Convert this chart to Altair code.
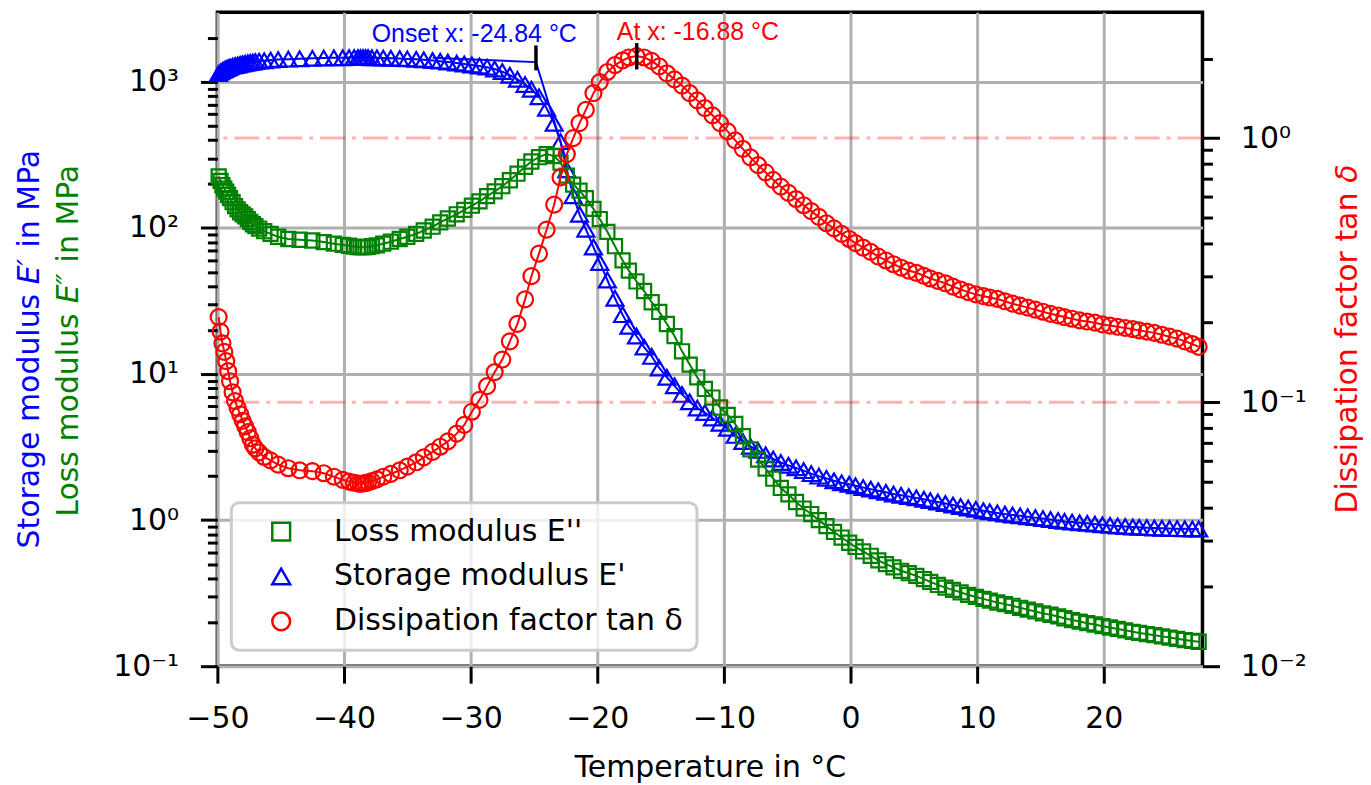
import altair as alt
import pandas as pd

# ---------------- data ----------------
temperature = [
    -49.9, -49.75, -49.6, -49.45, -49.3, -49.15, -49.0, -48.8, -48.6, -48.4,
    -48.2, -48.0, -47.8, -47.6, -47.4, -47.2, -47.0, -46.7, -46.3, -45.8, -45.2,
    -44.4, -43.5, -42.5, -41.6, -40.8, -40.1,
    -39.6, -39.2, -38.9, -38.7, -38.5, -38.3, -38.1, -37.8, -37.4,
    -36.9, -36.3, -35.6, -35.0, -34.3, -33.7, -33.0, -32.4, -31.8, -31.1,
    -30.5, -29.9, -29.3, -28.7, -28.1, -27.5, -26.9, -26.3, -25.7, -25.2,
    -24.6, -24.0, -23.4, -22.9, -22.4, -21.9, -21.4, -20.9, -20.3, -19.8,
    -19.2, -18.6, -18.0, -17.5, -16.9, -16.3, -15.7, -15.1, -14.5, -13.9,
    -13.3, -12.7, -12.1, -11.5, -10.9, -10.3, -9.7, -9.1, -8.5, -7.9,
    -7.3, -6.7, -6.1, -5.5, -4.9, -4.3, -3.7, -3.1, -2.5, -1.9,
    -1.3, -0.7, -0.1, 0.4, 1.0, 1.6, 2.2, 2.8, 3.4, 4.0,
    4.6, 5.2, 5.8, 6.3, 6.9, 7.5, 8.1, 8.7, 9.3, 9.9,
    10.5, 11.0, 11.6, 12.2, 12.8, 13.4, 14.0, 14.6, 15.2, 15.8,
    16.4, 16.9, 17.5, 18.1, 18.7, 19.3, 19.9, 20.5, 21.1, 21.7,
    22.3, 22.8, 23.4, 24.0, 24.6, 25.2, 25.8, 26.4, 27.0, 27.5,
]

storage_modulus = [
    1140, 1170, 1195, 1215, 1235, 1250, 1265, 1280, 1295, 1305,
    1320, 1330, 1340, 1350, 1360, 1365, 1375, 1385, 1395, 1410, 1420,
    1430, 1440, 1448, 1455, 1460, 1462,
    1465, 1466, 1466, 1466, 1465, 1465, 1464, 1462, 1460,
    1455, 1450, 1443, 1435, 1425, 1415, 1400, 1385, 1365, 1345,
    1325, 1305, 1285, 1260, 1225, 1175, 1110, 1040, 960, 890,
    790, 660, 520, 390, 250, 166, 124, 98, 74, 58,
    44, 33, 25.5, 21.2, 18.2, 15.3, 13.2, 11.0, 9.5, 8.3,
    7.25, 6.45, 5.85, 5.45, 5.0, 4.6, 4.25, 3.8, 3.45, 3.2,
    3.0, 2.8, 2.62, 2.48, 2.37, 2.28, 2.18, 2.08, 2.0, 1.93,
    1.86, 1.80, 1.76, 1.72, 1.67, 1.63, 1.59, 1.55, 1.51, 1.48,
    1.45, 1.42, 1.39, 1.36, 1.33, 1.30, 1.27, 1.24, 1.21, 1.185,
    1.16, 1.14, 1.12, 1.10, 1.085, 1.07, 1.055, 1.04, 1.025, 1.01,
    0.995, 0.98, 0.97, 0.96, 0.95, 0.94, 0.93, 0.92, 0.912, 0.905,
    0.898, 0.893, 0.888, 0.884, 0.88, 0.877, 0.874, 0.872, 0.87, 0.868,
]

loss_modulus = [
    225, 210, 196, 186, 177, 168, 160, 150, 141, 134,
    128, 124, 120, 115, 110, 106, 103, 99, 95, 91, 87,
    84, 83, 82, 80, 78, 76.5,
    75.5, 74.5, 74, 73.8, 73.8, 74, 74.3, 75, 76,
    78, 80.5, 84, 87, 91, 96, 102, 109, 116, 124,
    133, 142, 152, 165, 178, 193, 212, 235, 262, 285,
    305, 320, 310, 280, 228, 198, 180, 160, 135, 115,
    94, 75, 60, 51, 43, 37, 31, 26.6, 22, 18.2,
    14.3, 11.6, 9.5, 7.9, 6.9, 5.9, 5.25, 4.55, 3.75, 3.05,
    2.6, 2.25, 1.92, 1.66, 1.5, 1.33, 1.2, 1.1, 1.0, 0.91,
    0.83, 0.76, 0.70, 0.655, 0.61, 0.57, 0.53, 0.50, 0.475, 0.45,
    0.433, 0.415, 0.395, 0.378, 0.36, 0.345, 0.333, 0.32, 0.308, 0.298,
    0.289, 0.281, 0.273, 0.266, 0.259, 0.251, 0.244, 0.237, 0.23, 0.225,
    0.219, 0.213, 0.207, 0.202, 0.197, 0.193, 0.188, 0.184, 0.18, 0.176,
    0.172, 0.169, 0.166, 0.163, 0.16, 0.157, 0.154, 0.151, 0.149, 0.147,
]

tan_delta = [
    0.21, 0.185, 0.167, 0.155, 0.143, 0.131, 0.12, 0.109, 0.101, 0.095,
    0.09, 0.085, 0.081, 0.077, 0.073, 0.069, 0.0668, 0.0645, 0.062, 0.0602, 0.058,
    0.0562, 0.0552, 0.0548, 0.0538, 0.0522, 0.0508,
    0.050, 0.0495, 0.0492, 0.0491, 0.0492, 0.0494, 0.0497, 0.0502, 0.051,
    0.0522, 0.0535, 0.0552, 0.057, 0.0592, 0.0618, 0.0648, 0.0678, 0.071, 0.076,
    0.082, 0.092, 0.102, 0.115, 0.13, 0.145, 0.17, 0.198, 0.245, 0.300,
    0.365, 0.45, 0.56, 0.71, 0.87, 1.0, 1.14, 1.28, 1.48, 1.63,
    1.78, 1.89, 1.97, 2.02, 2.045, 2.02, 1.96, 1.87, 1.76, 1.67,
    1.58, 1.48, 1.39, 1.30, 1.22, 1.14, 1.06, 0.98, 0.91, 0.845,
    0.79, 0.742, 0.695, 0.655, 0.62, 0.588, 0.557, 0.529, 0.503, 0.476,
    0.455, 0.434, 0.415, 0.4, 0.385, 0.371, 0.356, 0.344, 0.333, 0.323,
    0.315, 0.309, 0.301, 0.294, 0.288, 0.282, 0.274, 0.267, 0.261, 0.256,
    0.252, 0.249, 0.246, 0.241, 0.236, 0.232, 0.228, 0.224, 0.22, 0.216,
    0.213, 0.21, 0.207, 0.204, 0.202, 0.2, 0.197, 0.195, 0.193, 0.191,
    0.189, 0.187, 0.185, 0.183, 0.18, 0.177, 0.174, 0.17, 0.166, 0.162,
]

series_names = ["Loss modulus E''", "Storage modulus E'", "Dissipation factor tan δ"]
series_colors = ["#008000", "#0000ff", "#ff0000"]
series_shapes = ["square", "triangle-up", "circle"]

onset_x = -24.84
peak_x = -16.88
onset_label = "Onset x: -24.84 °C"
peak_label = "At x: -16.88 °C"
onset_label_y = [1888]
peak_label_y = [2.345]
onset_marker_y = [1198, 1774]
peak_marker_y = [1.82, 2.29]

tangent_x = [-33.0, -24.84, -22.55]
tangent_y = [1460, 1365, 309]

reference_levels = [1.0, 0.1]

x_ticks = [-50, -40, -30, -20, -10, 0, 10, 20]
left_major = [0.1, 1, 10, 100, 1000]
left_minor = [0.2, 0.3, 0.4, 0.5, 0.6, 0.7, 0.8, 0.9,
              2, 3, 4, 5, 6, 7, 8, 9,
              20, 30, 40, 50, 60, 70, 80, 90,
              200, 300, 400, 500, 600, 700, 800, 900,
              2000]
right_major = [0.01, 0.1, 1]
right_minor = [0.02, 0.03, 0.04, 0.05, 0.06, 0.07, 0.08, 0.09,
               0.2, 0.3, 0.4, 0.5, 0.6, 0.7, 0.8, 0.9, 2]

# ---------------- styling ----------------
W, H = 988, 656
FONT = "DejaVu Sans"
FS = 30

x_scale = alt.Scale(domain=[-50, 27.8], nice=False, zero=False)
left_scale = alt.Scale(type="log", domain=[0.1, 3000], nice=False)
right_scale = alt.Scale(type="log", domain=[0.01, 3], nice=False)

x_axis = alt.Axis(
    values=x_ticks, format="d", title="Temperature in °C",
    titleFont=FONT, titleFontSize=FS, titleFontWeight="normal", titleColor="black",
    titlePadding=20,
    labelFont=FONT, labelFontSize=FS, labelColor="black", labelPadding=20,
    labelFlush=False,
    tickSize=17, tickWidth=3, tickColor="black",
    domain=False, grid=True, gridColor="#b0b0b0", gridWidth=3,
)

left_test = "indexof([0.1, 1, 10, 100, 1000], datum.value) >= 0"
left_axis = alt.Axis(
    orient="left", values=left_major + left_minor, title=None,
    labelExpr=("datum.value == 0.1 ? '10⁻¹' : datum.value == 1 ? '10⁰' : "
               "datum.value == 10 ? '10¹' : datum.value == 100 ? '10²' : "
               "datum.value == 1000 ? '10³' : ''"),
    labelFont=FONT, labelFontSize=FS, labelColor="black", labelPadding=22,
    labelOverlap=False, labelFlush=False,
    tickSize={"condition": {"test": left_test, "value": 17}, "value": 10},
    tickWidth=3, tickColor="black",
    domain=False, grid=True, gridColor="#b0b0b0", gridWidth=3,
    gridOpacity={"condition": {"test": left_test, "value": 1}, "value": 0},
)

right_test = "indexof([0.01, 0.1, 1], datum.value) >= 0"
right_axis = alt.Axis(
    orient="right", values=right_major + right_minor, title=None,
    labelExpr=("datum.value == 0.01 ? '10⁻²' : datum.value == 0.1 ? '10⁻¹' : "
               "datum.value == 1 ? '10⁰' : ''"),
    labelFont=FONT, labelFontSize=FS, labelColor="black", labelPadding=21,
    labelOverlap=False, labelFlush=False,
    tickSize={"condition": {"test": right_test, "value": 17}, "value": 10},
    tickWidth=3, tickColor="black",
    domain=False, grid=False,
)

legend = alt.Legend(
    orient="none", legendX=14, legendY=492, title=None,
    labelFont=FONT, labelFontSize=FS, labelColor="black", labelLimit=600,
    symbolSize=320, symbolStrokeWidth=2.5, symbolOffset=21, labelOffset=38,
    symbolOpacity=1, rowPadding=15, padding=14,
    fillColor="rgba(255,255,255,0.8)", strokeColor="#cccccc", cornerRadius=8,
)
color_enc = alt.Color("series:N", scale=alt.Scale(domain=series_names, range=series_colors), legend=legend)
shape_enc = alt.Shape("series:N", scale=alt.Scale(domain=series_names, range=series_shapes), legend=legend)


def X():
    return alt.X("T:Q", scale=x_scale, axis=x_axis)


def YL(field="v"):
    return alt.Y(f"{field}:Q", scale=left_scale, axis=left_axis)


def YR(field="tan"):
    return alt.Y(f"{field}:Q", scale=right_scale, axis=right_axis)


df_storage = pd.DataFrame({"T": temperature, "v": storage_modulus, "series": series_names[1]})
df_loss = pd.DataFrame({"T": temperature, "v": loss_modulus, "series": series_names[0]})
df_tan = pd.DataFrame({"T": temperature, "tan": tan_delta, "series": series_names[2]})

blue_line = alt.Chart(df_storage).mark_line(color="#0000ff", strokeWidth=2).encode(x=X(), y=YL())
blue_pts = alt.Chart(df_storage).mark_point(filled=False, size=290, strokeWidth=2.2, opacity=1).encode(
    x=X(), y=YL(), color=color_enc, shape=shape_enc)
green_line = alt.Chart(df_loss).mark_line(color="#008000", strokeWidth=2).encode(x=X(), y=YL())
green_pts = alt.Chart(df_loss).mark_point(filled=False, size=200, strokeWidth=2.2, opacity=1).encode(
    x=X(), y=YL(), color=color_enc, shape=shape_enc)

tangent = alt.Chart(pd.DataFrame({"T": tangent_x, "v": tangent_y})).mark_line(
    color="#0000ff", strokeWidth=2).encode(x=X(), y=YL())
onset_mark = alt.Chart(pd.DataFrame({"T": [onset_x], "v": [onset_marker_y[0]], "v2": [onset_marker_y[1]]})).mark_rule(
    color="black", strokeWidth=3.5).encode(x=X(), y=YL(), y2="v2:Q")
onset_text = alt.Chart(pd.DataFrame({"T": [onset_x], "v": onset_label_y, "label": [onset_label]})).mark_text(
    font="Liberation Sans", fontSize=25, color="#0000ff", align="right", baseline="alphabetic", dx=41
).encode(x=X(), y=YL(), text="label:N")


# multi-coloured y titles (rotated, reading bottom-to-top); SVG drops edge spaces,
# so each piece is anchored on its own
def vtext(label, x, y, color, italic=False):
    return alt.Chart(pd.DataFrame({"label": [label]})).mark_text(
        font=FONT, fontSize=FS, color=color, angle=270, align="left", baseline="alphabetic",
        fontStyle="italic" if italic else "normal",
    ).encode(x=alt.value(x), y=alt.value(y), text="label:N")


titles = [
    vtext("Storage modulus", -179, 538, "#0000ff"),
    vtext("E′", -179, 273, "#0000ff", italic=True),
    vtext("in MPa", -179, 236, "#0000ff"),
    vtext("Loss modulus", -140, 506, "#008000"),
    vtext("E″", -140, 292, "#008000", italic=True),
    vtext("in MPa", -140, 251, "#008000"),
    vtext("Dissipation factor tan", 1143, 503, "#ff0000"),
    vtext("δ", 1143, 171, "#ff0000", italic=True),
]

left_group = alt.layer(blue_line, blue_pts, green_line, green_pts, tangent, onset_mark, onset_text, *titles)

ref_rules = alt.Chart(pd.DataFrame({"tan": reference_levels})).mark_rule(
    color="#ff0000", opacity=0.3, strokeWidth=3, strokeDash=[25, 7, 4, 7]).encode(y=YR())
red_line = alt.Chart(df_tan).mark_line(color="#ff0000", strokeWidth=2).encode(x=X(), y=YR())
red_pts = alt.Chart(df_tan).mark_point(filled=False, size=256, strokeWidth=2.2, opacity=1).encode(
    x=X(), y=YR(), color=color_enc, shape=shape_enc)
peak_mark = alt.Chart(pd.DataFrame({"T": [peak_x], "tan": [peak_marker_y[0]], "tan2": [peak_marker_y[1]]})).mark_rule(
    color="black", strokeWidth=3.5).encode(x=X(), y=YR(), y2="tan2:Q")
peak_text = alt.Chart(pd.DataFrame({"T": [peak_x], "tan": peak_label_y, "label": [peak_label]})).mark_text(
    font="Liberation Sans", fontSize=25, color="#ff0000", align="left", baseline="alphabetic", dx=-20
).encode(x=X(), y=YR(), text="label:N")

right_group = alt.layer(ref_rules, red_line, red_pts, peak_mark, peak_text)

chart = (
    alt.layer(left_group, right_group)
    .resolve_scale(y="independent")
    .properties(width=W, height=H, padding={"left": 7, "top": 3, "right": 0, "bottom": 0})
    .configure_view(stroke="black", strokeWidth=3.5)
    .configure_legend(strokeWidth=3)
)

chart.save("out.html", embed_options={"renderer": "svg", "actions": False})
